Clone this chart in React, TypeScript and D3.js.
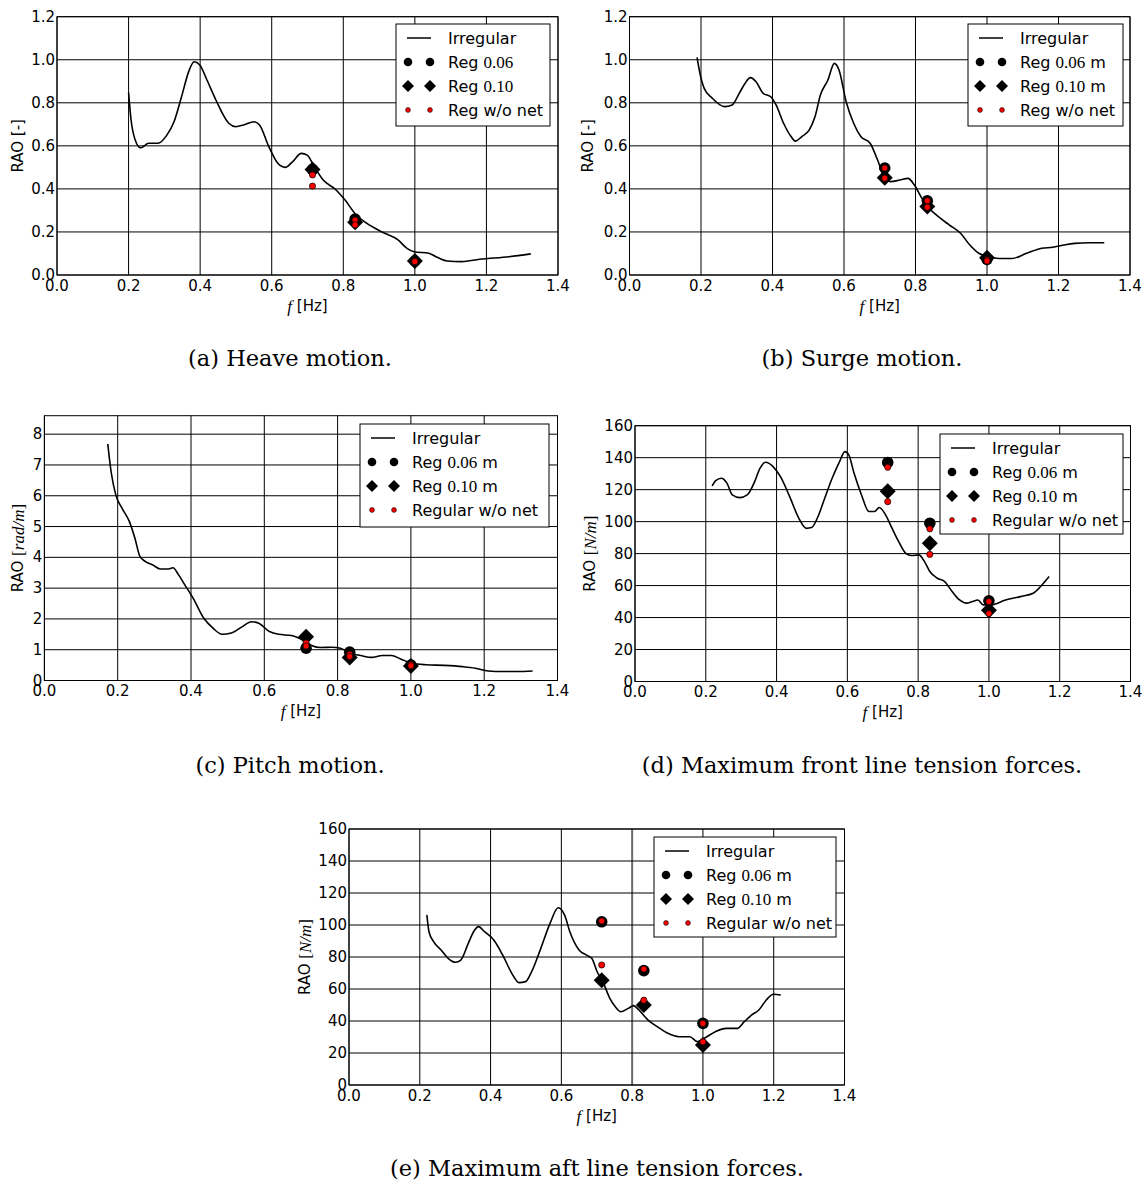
import React from "react";
import * as d3 from "d3";

// ---------- shared ----------
const xTicks = [0, 0.2, 0.4, 0.6, 0.8, 1.0, 1.2, 1.4];
const yTicksMotion = [0, 0.2, 0.4, 0.6, 0.8, 1.0, 1.2];
const yTicksPitch = [0, 1, 2, 3, 4, 5, 6, 7, 8];
const yTicksForce = [0, 20, 40, 60, 80, 100, 120, 140, 160];
const regFreq = [0.714, 0.833, 1.0];

// ---------- (a) heave ----------
const heaveF = [0.2, 0.207, 0.218, 0.234, 0.256, 0.282, 0.307, 0.327, 0.348, 0.368, 0.383, 0.399, 0.419, 0.444, 0.48, 0.5, 0.521, 0.551, 0.566, 0.592, 0.617, 0.638, 0.658, 0.683, 0.699, 0.719, 0.744, 0.78, 0.805, 0.836, 0.866, 0.907, 0.953, 0.978, 0.998, 1.039, 1.059, 1.09, 1.131, 1.181, 1.263, 1.324];
const heaveV = [0.847, 0.72, 0.63, 0.591, 0.612, 0.612, 0.65, 0.712, 0.828, 0.945, 0.991, 0.976, 0.906, 0.813, 0.705, 0.689, 0.697, 0.712, 0.697, 0.596, 0.519, 0.5, 0.526, 0.565, 0.557, 0.503, 0.441, 0.395, 0.348, 0.279, 0.24, 0.201, 0.163, 0.124, 0.108, 0.101, 0.085, 0.065, 0.062, 0.073, 0.085, 0.098];
const heaveReg006 = [0.49, 0.26, 0.065];
const heaveReg010 = [0.49, 0.245, 0.065];
const heaveNoNet1 = [0.465, 0.255, 0.065];
const heaveNoNet2 = [0.413, 0.233, 0.062];

// ---------- (b) surge ----------
const surgeF = [0.189, 0.196, 0.209, 0.23, 0.266, 0.287, 0.307, 0.323, 0.338, 0.354, 0.374, 0.395, 0.41, 0.431, 0.452, 0.464, 0.482, 0.503, 0.519, 0.534, 0.555, 0.573, 0.586, 0.606, 0.627, 0.647, 0.673, 0.694, 0.712, 0.73, 0.756, 0.779, 0.797, 0.818, 0.838, 0.864, 0.895, 0.926, 0.952, 0.977, 1.003, 1.034, 1.07, 1.111, 1.153, 1.184, 1.214, 1.245, 1.287, 1.328];
const surgeV = [1.011, 0.945, 0.867, 0.824, 0.782, 0.79, 0.844, 0.89, 0.917, 0.898, 0.844, 0.828, 0.79, 0.705, 0.643, 0.622, 0.643, 0.674, 0.736, 0.836, 0.906, 0.983, 0.952, 0.805, 0.705, 0.643, 0.612, 0.534, 0.457, 0.434, 0.441, 0.449, 0.418, 0.356, 0.31, 0.271, 0.232, 0.194, 0.139, 0.101, 0.085, 0.077, 0.077, 0.101, 0.124, 0.129, 0.139, 0.147, 0.15, 0.15];
const surgeReg006 = [0.497, 0.345, 0.073];
const surgeReg010 = [0.452, 0.318, 0.08];
const surgeNoNet1 = [0.497, 0.345, 0.07];
const surgeNoNet2 = [0.45, 0.315, 0.065];

// ---------- (c) pitch ----------
const pitchF = [0.173, 0.182, 0.195, 0.212, 0.232, 0.247, 0.261, 0.276, 0.296, 0.316, 0.336, 0.351, 0.366, 0.386, 0.406, 0.435, 0.46, 0.485, 0.51, 0.54, 0.565, 0.585, 0.614, 0.639, 0.674, 0.704, 0.729, 0.753, 0.783, 0.808, 0.833, 0.863, 0.893, 0.922, 0.947, 0.972, 1.002, 1.042, 1.091, 1.141, 1.176, 1.211, 1.25, 1.29, 1.332];
const pitchV = [7.68, 6.78, 6.02, 5.59, 5.16, 4.62, 4.02, 3.86, 3.75, 3.62, 3.62, 3.66, 3.43, 3.05, 2.67, 2.02, 1.7, 1.5, 1.54, 1.75, 1.91, 1.86, 1.59, 1.5, 1.46, 1.32, 1.14, 1.07, 1.08, 1.05, 0.89, 0.81, 0.75, 0.81, 0.81, 0.7, 0.56, 0.51, 0.49, 0.45, 0.4, 0.31, 0.29, 0.29, 0.31];
const pitchReg006 = [1.05, 0.92, 0.5];
const pitchReg010 = [1.42, 0.75, 0.47];
const pitchNoNet1 = [1.22, 0.85, 0.52];
const pitchNoNet2 = [1.12, 0.78, 0.48];

// ---------- (d) front line tension ----------
const frontF = [0.218, 0.228, 0.244, 0.26, 0.275, 0.296, 0.317, 0.338, 0.353, 0.369, 0.39, 0.411, 0.437, 0.463, 0.484, 0.499, 0.515, 0.536, 0.557, 0.578, 0.593, 0.604, 0.619, 0.64, 0.661, 0.677, 0.69, 0.708, 0.724, 0.745, 0.765, 0.781, 0.802, 0.818, 0.833, 0.854, 0.875, 0.896, 0.917, 0.937, 0.953, 0.969, 0.984, 1.005, 1.047, 1.089, 1.125, 1.146, 1.17];
const frontV = [122.3, 125.6, 127.1, 123.9, 116.7, 115, 116.7, 125, 133.3, 137.1, 134.4, 128.1, 115.6, 102.1, 95.8, 96.3, 102.1, 114.6, 127.1, 137.5, 143.8, 141.7, 130.2, 116.7, 106.3, 106.3, 108.8, 104.2, 96.9, 87.5, 80.2, 78.8, 79.2, 75, 68.8, 64.6, 62.5, 56.3, 51, 49, 50, 51, 47.9, 47.9, 51, 53.1, 55.2, 59.4, 65.6];
const frontReg006 = [137, 99, 50.5];
const frontReg010 = [119, 86.5, 44.5];
const frontNoNet1 = [134, 95.5, 50];
const frontNoNet2 = [112.5, 79.5, 42.5];

// ---------- (e) aft line tension ----------
const aftF = [0.22, 0.226, 0.239, 0.26, 0.28, 0.301, 0.316, 0.337, 0.352, 0.366, 0.383, 0.409, 0.434, 0.46, 0.48, 0.499, 0.516, 0.542, 0.568, 0.591, 0.609, 0.624, 0.65, 0.67, 0.686, 0.701, 0.717, 0.737, 0.752, 0.768, 0.789, 0.804, 0.819, 0.845, 0.871, 0.901, 0.932, 0.963, 0.984, 1.004, 1.035, 1.066, 1.097, 1.117, 1.138, 1.158, 1.179, 1.199, 1.22];
const aftV = [106.3, 95.8, 89.6, 84.4, 79.2, 76.7, 78.1, 88.5, 95.8, 99, 95.8, 90.6, 81.3, 69.8, 64, 64.6, 70.8, 85.4, 101, 110.8, 106.3, 95.8, 84.4, 81.3, 79.2, 70.8, 64.6, 54.2, 49, 45.8, 47.9, 49.6, 46.9, 40.6, 36.5, 32.3, 30.2, 30.2, 27.1, 29.2, 33.3, 35.4, 35.4, 39.6, 43.8, 46.9, 53.1, 56.7, 56.3];
const aftReg006 = [102, 71.5, 38.5];
const aftReg010 = [65.5, 50, 25];
const aftNoNet1 = [102.5, 72.5, 38.5];
const aftNoNet2 = [75, 53, 27];

// ---------- text ----------
const captions = [
  "(a) Heave motion.",
  "(b) Surge motion.",
  "(c) Pitch motion.",
  "(d) Maximum front line tension forces.",
  "(e) Maximum aft line tension forces.",
];

const SANS = "'DejaVu Sans', sans-serif";
const SERIF = "'DejaVu Serif', serif";
const MATH = "'Liberation Serif', 'DejaVu Serif', serif";

type LegendKind = "short" | "m" | "regular";

type PanelCfg = {
  x0: number; x1: number; yTop: number; yBot: number; yMax: number;
  yTicks: number[]; yFmt: (v: number) => string;
  f: number[]; v: number[];
  r06: number[]; r10: number[]; n1: number[]; n2: number[];
  unit: "-" | "rad/m" | "N/m";
  yLabelX: number;
  legend: { x: number; y: number; w: number; h: number; kind: LegendKind };
  caption: string; capX: number; capY: number;
  grayGridX?: number;
};

const fmt1 = d3.format(".1f");
const fmt0 = d3.format("d");

const panels: PanelCfg[] = [
  { x0: 57, x1: 558, yTop: 16.7, yBot: 275, yMax: 1.2, yTicks: yTicksMotion, yFmt: fmt1,
    f: heaveF, v: heaveV, r06: heaveReg006, r10: heaveReg010, n1: heaveNoNet1, n2: heaveNoNet2,
    unit: "-", yLabelX: 18, legend: { x: 396, y: 24, w: 154, h: 102, kind: "short" },
    caption: captions[0], capX: 290, capY: 358 },
  { x0: 629.5, x1: 1130, yTop: 16.7, yBot: 275, yMax: 1.2, yTicks: yTicksMotion, yFmt: fmt1,
    f: surgeF, v: surgeV, r06: surgeReg006, r10: surgeReg010, n1: surgeNoNet1, n2: surgeNoNet2,
    unit: "-", yLabelX: 588, legend: { x: 968, y: 24, w: 155, h: 102, kind: "m" },
    caption: captions[1], capX: 862, capY: 358 },
  { x0: 44.4, x1: 557.5, yTop: 415.7, yBot: 680.5, yMax: 8.6, yTicks: yTicksPitch, yFmt: fmt0,
    f: pitchF, v: pitchV, r06: pitchReg006, r10: pitchReg010, n1: pitchNoNet1, n2: pitchNoNet2,
    unit: "rad/m", yLabelX: 18, legend: { x: 360, y: 424, w: 189, h: 103, kind: "regular" },
    caption: captions[2], capX: 290, capY: 765 },
  { x0: 635, x1: 1130.5, yTop: 425.7, yBot: 681.5, yMax: 160, yTicks: yTicksForce, yFmt: fmt0,
    f: frontF, v: frontV, r06: frontReg006, r10: frontReg010, n1: frontNoNet1, n2: frontNoNet2,
    unit: "N/m", yLabelX: 590, legend: { x: 940, y: 434, w: 183, h: 100, kind: "regular" },
    caption: captions[3], capX: 862, capY: 765 },
  { x0: 349, x1: 844.5, yTop: 829, yBot: 1085, yMax: 160, yTicks: yTicksForce, yFmt: fmt0,
    f: aftF, v: aftV, r06: aftReg006, r10: aftReg010, n1: aftNoNet1, n2: aftNoNet2,
    unit: "N/m", yLabelX: 304.5, legend: { x: 654, y: 837, w: 182, h: 100, kind: "regular" },
    caption: captions[4], capX: 597, capY: 1168, grayGridX: 0.8 },
];

const diamond = (h: number) => `M0,${-h}L${h},0L0,${h}L${-h},0Z`;

function Legend({ cfg }: { cfg: PanelCfg["legend"] }) {
  const { x, y, w, h, kind } = cfg;
  const rowY = (i: number) => y + 14 + i * 24;
  const mx = [x + 12, x + 34];
  const tx = x + 52;
  const regText = (num: string) => (
    <>
      <tspan fontFamily={SANS}>Reg </tspan>
      <tspan fontFamily={MATH} fontSize={17}>{num}</tspan>
      {kind !== "short" ? <tspan fontFamily={SANS}> m</tspan> : null}
    </>
  );
  return (
    <g>
      <rect x={x} y={y} width={w} height={h} fill="#fff" stroke="#000" strokeWidth={1} />
      <line x1={x + 11} x2={x + 35} y1={rowY(0)} y2={rowY(0)} stroke="#000" strokeWidth={1.5} />
      {mx.map((cx, i) => (
        <g key={i}>
          <circle cx={cx} cy={rowY(1)} r={4.3} fill="#000" />
          <path d={diamond(6)} transform={`translate(${cx},${rowY(2)})`} fill="#000" />
          <circle cx={cx} cy={rowY(3)} r={2.4} fill="#ff0000" stroke="#000" strokeWidth={0.6} />
        </g>
      ))}
      <g fontSize={16} fontFamily={SANS} fill="#000" dominantBaseline="central">
        <text x={tx} y={rowY(0)}>Irregular</text>
        <text x={tx} y={rowY(1)}>{regText("0.06")}</text>
        <text x={tx} y={rowY(2)}>{regText("0.10")}</text>
        <text x={tx} y={rowY(3)}>{kind === "regular" ? "Regular w/o net" : "Reg w/o net"}</text>
      </g>
    </g>
  );
}

function Panel({ p }: { p: PanelCfg }) {
  const x = d3.scaleLinear().domain([0, 1.4]).range([p.x0, p.x1]);
  const y = d3.scaleLinear().domain([0, p.yMax]).range([p.yBot, p.yTop]);
  const pts: [number, number][] = p.f.map((f, i) => [f, p.v[i]]);
  const line = d3
    .line<[number, number]>()
    .x((d) => x(d[0]))
    .y((d) => y(d[1]))
    .curve(d3.curveMonotoneX);
  const midY = (p.yTop + p.yBot) / 2;
  const midX = (p.x0 + p.x1) / 2;
  const clipId = `clip-${Math.round(p.x0)}-${Math.round(p.yTop)}`;
  return (
    <g>
      <defs>
        <clipPath id={clipId}>
          <rect x={p.x0} y={p.yTop} width={p.x1 - p.x0} height={p.yBot - p.yTop} />
        </clipPath>
      </defs>
      {/* grid */}
      {xTicks.map((t) => (
        <line key={`gx${t}`} x1={x(t)} x2={x(t)} y1={p.yTop} y2={p.yBot}
          stroke={p.grayGridX === t ? "#6a6a6a" : "#000"} strokeWidth={p.grayGridX === t ? 2 : 1} />
      ))}
      {p.yTicks.map((t) => (
        <line key={`gy${t}`} x1={p.x0} x2={p.x1} y1={y(t)} y2={y(t)} stroke="#000" strokeWidth={1} />
      ))}
      {/* irregular curve */}
      <path d={line(pts) || ""} fill="none" stroke="#000" strokeWidth={1.6} clipPath={`url(#${clipId})`} />
      {/* regular tests */}
      {regFreq.map((f, i) => (
        <circle key={`c${i}`} cx={x(f)} cy={y(p.r06[i])} r={5.8} fill="#000" />
      ))}
      {regFreq.map((f, i) => (
        <path key={`d${i}`} d={diamond(8)} transform={`translate(${x(f)},${y(p.r10[i])})`} fill="#000" />
      ))}
      {regFreq.map((f, i) => (
        <g key={`n${i}`}>
          <circle cx={x(f)} cy={y(p.n1[i])} r={3.1} fill="#ff0000" stroke="#000" strokeWidth={0.7} />
          <circle cx={x(f)} cy={y(p.n2[i])} r={3.1} fill="#ff0000" stroke="#000" strokeWidth={0.7} />
        </g>
      ))}
      {/* frame */}
      <rect x={p.x0} y={p.yTop} width={p.x1 - p.x0} height={p.yBot - p.yTop} fill="none" stroke="#000" strokeWidth={1} />
      <Legend cfg={p.legend} />
      {/* tick labels */}
      <g fontFamily={SANS} fontSize={15} fill="#000">
        {xTicks.map((t) => (
          <text key={`tx${t}`} x={x(t)} y={p.yBot + 10.5} textAnchor="middle" dominantBaseline="central">
            {fmt1(t)}
          </text>
        ))}
        {p.yTicks.map((t) => (
          <text key={`ty${t}`} x={p.x0 - 2} y={y(t)} textAnchor="end" dominantBaseline="central">
            {p.yFmt(t)}
          </text>
        ))}
      </g>
      {/* axis labels */}
      <text x={midX} y={p.yBot + 30.5} textAnchor="middle" dominantBaseline="central" fontSize={15} fontFamily={SANS}>
        <tspan fontFamily={MATH} fontStyle="italic" fontSize={17}>f</tspan>
        <tspan> [Hz]</tspan>
      </text>
      <text transform={`translate(${p.yLabelX},${midY}) rotate(-90)`} textAnchor="middle" dominantBaseline="central"
        fontSize={15} fontFamily={SANS}>
        {p.unit === "-" ? (
          <tspan>RAO [-]</tspan>
        ) : (
          <>
            <tspan>RAO </tspan>
            <tspan fontFamily={MATH} fontSize={17}>[</tspan>
            <tspan fontFamily={MATH} fontSize={17} fontStyle="italic">{p.unit}</tspan>
            <tspan fontFamily={MATH} fontSize={17}>]</tspan>
          </>
        )}
      </text>
      {/* caption */}
      <text x={p.capX} y={p.capY} textAnchor="middle" dominantBaseline="central" fontFamily={SERIF} fontSize={22.5}>
        {p.caption}
      </text>
    </g>
  );
}

export default function App() {
  return (
    <div style={{ position: "absolute", left: 0, top: 0 }}>
      <svg width={1148} height={1183} viewBox="0 0 1148 1183" style={{ display: "block", background: "#fff" }}>
        <rect x={0} y={0} width={1148} height={1183} fill="#fff" />
        {panels.map((p, i) => (
          <Panel key={i} p={p} />
        ))}
      </svg>
    </div>
  );
}
